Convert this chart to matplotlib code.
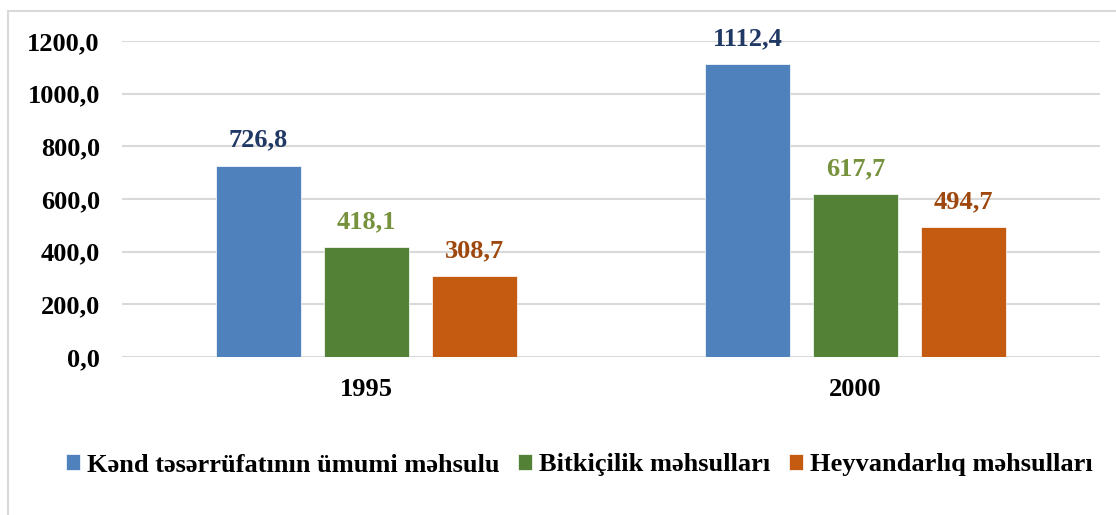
import numpy as np
import matplotlib.pyplot as plt
from matplotlib.patches import Rectangle

plt.rcParams['font.family'] = ['Liberation Serif', 'DejaVu Serif']
plt.rcParams['font.weight'] = 'bold'

# data
years = ["1995", "2000"]
series = ["Kənd təsərrüfatının ümumi məhsulu", "Bitkiçilik məhsulları", "Heyvandarlıq məhsulları"]
umumi = [726.8, 1112.4]
bitki = [418.1, 617.7]
heyvan = [308.7, 494.7]

bar_colors = ["#4F81BD", "#538135", "#C55A11"]
label_colors = ["#1F3864", "#76923C", "#9E480E"]

fig = plt.figure(figsize=(11.16, 5.15), dpi=100)
# chart border (only top and left visible in the original crop)
fig.patches.append(Rectangle((8 / 1116, -0.1), 1.2, 1 - 11 / 515 + 0.1,
                             transform=fig.transFigure, fill=False,
                             edgecolor="#D9D9D9", linewidth=1.5))

ax = fig.add_axes([122 / 1116, 1 - 357 / 515, (1100 - 122) / 1116, (357 - 41) / 515])

x = np.arange(len(years))
w = 85 / 489
step = 108 / 489
fs = 19

for i, vals in enumerate([umumi, bitki, heyvan]):
    bars = ax.bar(x + (i - 1) * step, vals, w, color=bar_colors[i], label=series[i],
                  edgecolor="white", linewidth=0.5, zorder=3)
    labels = [f"{v:.1f}".replace(".", ",") for v in vals]
    ax.bar_label(bars, labels=labels, padding=10, color=label_colors[i],
                 fontsize=fs, fontweight="bold")

ax.set_xlim(-0.5, 1.5)
ax.set_ylim(0, 1200)
ax.set_yticks(np.arange(0, 1201, 200))
ax.set_yticklabels([f"{v:.1f}".replace(".", ",") for v in np.arange(0, 1201, 200)])
ax.set_xticks(x)
ax.set_xticklabels(years)
ax.tick_params(axis="both", length=0, labelsize=fs)
ax.tick_params(axis="y", pad=16)
ax.tick_params(axis="x", pad=15)
ax.yaxis.grid(True, color="#D9D9D9", linewidth=1.5, zorder=0)
ax.set_axisbelow(True)
for s in ax.spines.values():
    s.set_visible(False)

fig.legend(loc="center", bbox_to_anchor=(579 / 1116, 1 - 465 / 515), ncol=3,
           frameon=False, fontsize=fs, handlelength=0.55, handleheight=0.55,
           handletextpad=0.25, columnspacing=0.7)

fig.savefig("out.png", dpi=100)
